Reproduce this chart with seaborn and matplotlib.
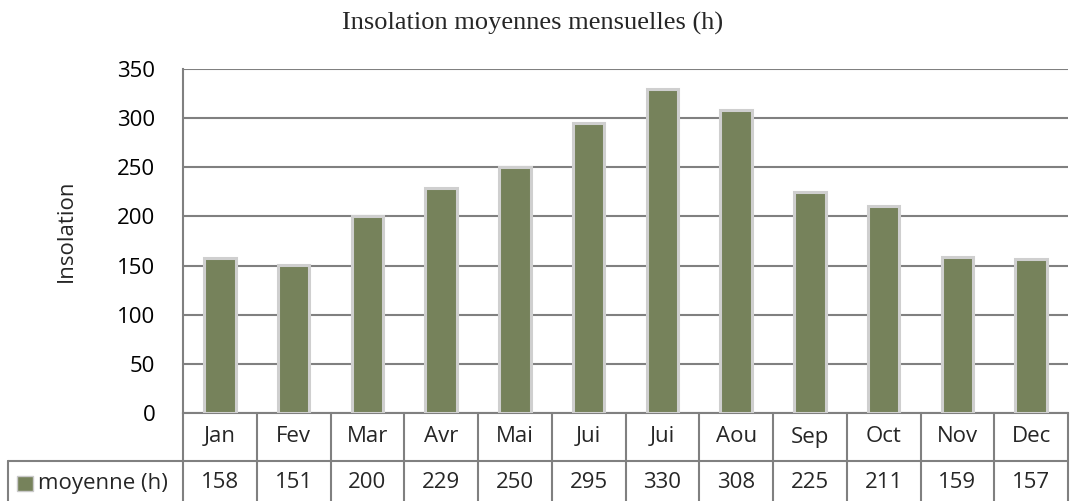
import matplotlib
matplotlib.use("Agg")
import matplotlib.pyplot as plt
import seaborn as sns
import pandas as pd
from matplotlib.patches import Rectangle

months = ["Jan", "Fev", "Mar", "Avr", "Mai", "Jui", "Jui", "Aou", "Sep", "Oct", "Nov", "Dec"]
values = [158, 151, 200, 229, 250, 295, 330, 308, 225, 211, 159, 157]
series_name = "moyenne (h)"
title = "Insolation moyennes mensuelles (h)"
ylabel = "Insolation"
yticks = [0, 50, 100, 150, 200, 250, 300, 350]

bar_color = "#76825b"
grid_color = "#808080"
font = "Open Sans"
fs = 16

sns.set_theme(style="white")
plt.rcParams["font.family"] = [font, "DejaVu Sans"]

W, H = 1071, 501
fig = plt.figure(figsize=(W / 100, H / 100), dpi=100)
left, right, top, bottom = 183, 1068, 69, 413
ax = fig.add_axes([left / W, 1 - bottom / H, (right - left) / W, (bottom - top) / H])

df = pd.DataFrame({"key": [f"{i:02d}" for i in range(len(months))], "value": values})
sns.barplot(data=df, x="key", y="value", ax=ax, color=bar_color, saturation=1,
            width=0.43, edgecolor="#cfcfcf", linewidth=2.2, zorder=3)

ax.set_xlim(-0.5, len(months) - 0.5)
ax.set_ylim(0, 350)
ax.set_yticks(yticks)
ax.yaxis.grid(True, color=grid_color, linewidth=1.5, zorder=0)
ax.set_axisbelow(True)
for s in ["top", "right"]:
    ax.spines[s].set_visible(False)
for s in ["left", "bottom"]:
    ax.spines[s].set_color(grid_color)
    ax.spines[s].set_linewidth(1.5)
ax.tick_params(axis="y", length=0, pad=20, labelsize=fs, colors="black")
ax.set_xticks([])
ax.set_xlabel("")
ax.set_ylabel("")
fig.text(66 / W, 1 - 231 / H, ylabel, rotation=90, ha="center", va="center", fontsize=fs)
fig.text(533 / W, 1 - 30 / H, title, ha="center", va="baseline",
         family="Liberation Serif", fontsize=19)

# data table under the axis
tr = ax.get_xaxis_transform()
px_per_unit = (right - left) / len(months)
ph = bottom - top
row1 = (bottom - 461) / ph
row2 = (bottom - 501) / ph
xleft = -0.5 - (left - 8) / px_per_unit
lk = dict(color=grid_color, linewidth=1.5, transform=tr, clip_on=False)
for i in range(len(months) + 1):
    ax.plot([i - 0.5, i - 0.5], [0, row2], **lk)
ax.plot([xleft, len(months) - 0.5], [row1, row1], **lk)
ax.plot([xleft, xleft], [row1, row2], **lk)
y_m = (bottom - 437) / ph
y_v = (bottom - 483) / ph
for i, (m, v) in enumerate(zip(months, values)):
    ax.text(i, y_m, m, ha="center", va="center", fontsize=fs, transform=tr, clip_on=False)
    ax.text(i, y_v, str(v), ha="center", va="center", fontsize=fs,
            transform=tr, clip_on=False)
# legend cell
ax.add_patch(Rectangle((xleft + 9 / px_per_unit, (bottom - 491) / ph), 16 / px_per_unit, 15 / ph,
                       transform=tr, clip_on=False, facecolor=bar_color, edgecolor="#c9c9c9", linewidth=1))
ax.text(xleft + 30 / px_per_unit, y_v, series_name, ha="left", va="center",
        fontsize=fs, transform=tr, clip_on=False)

fig.savefig("out.png", dpi=100)
